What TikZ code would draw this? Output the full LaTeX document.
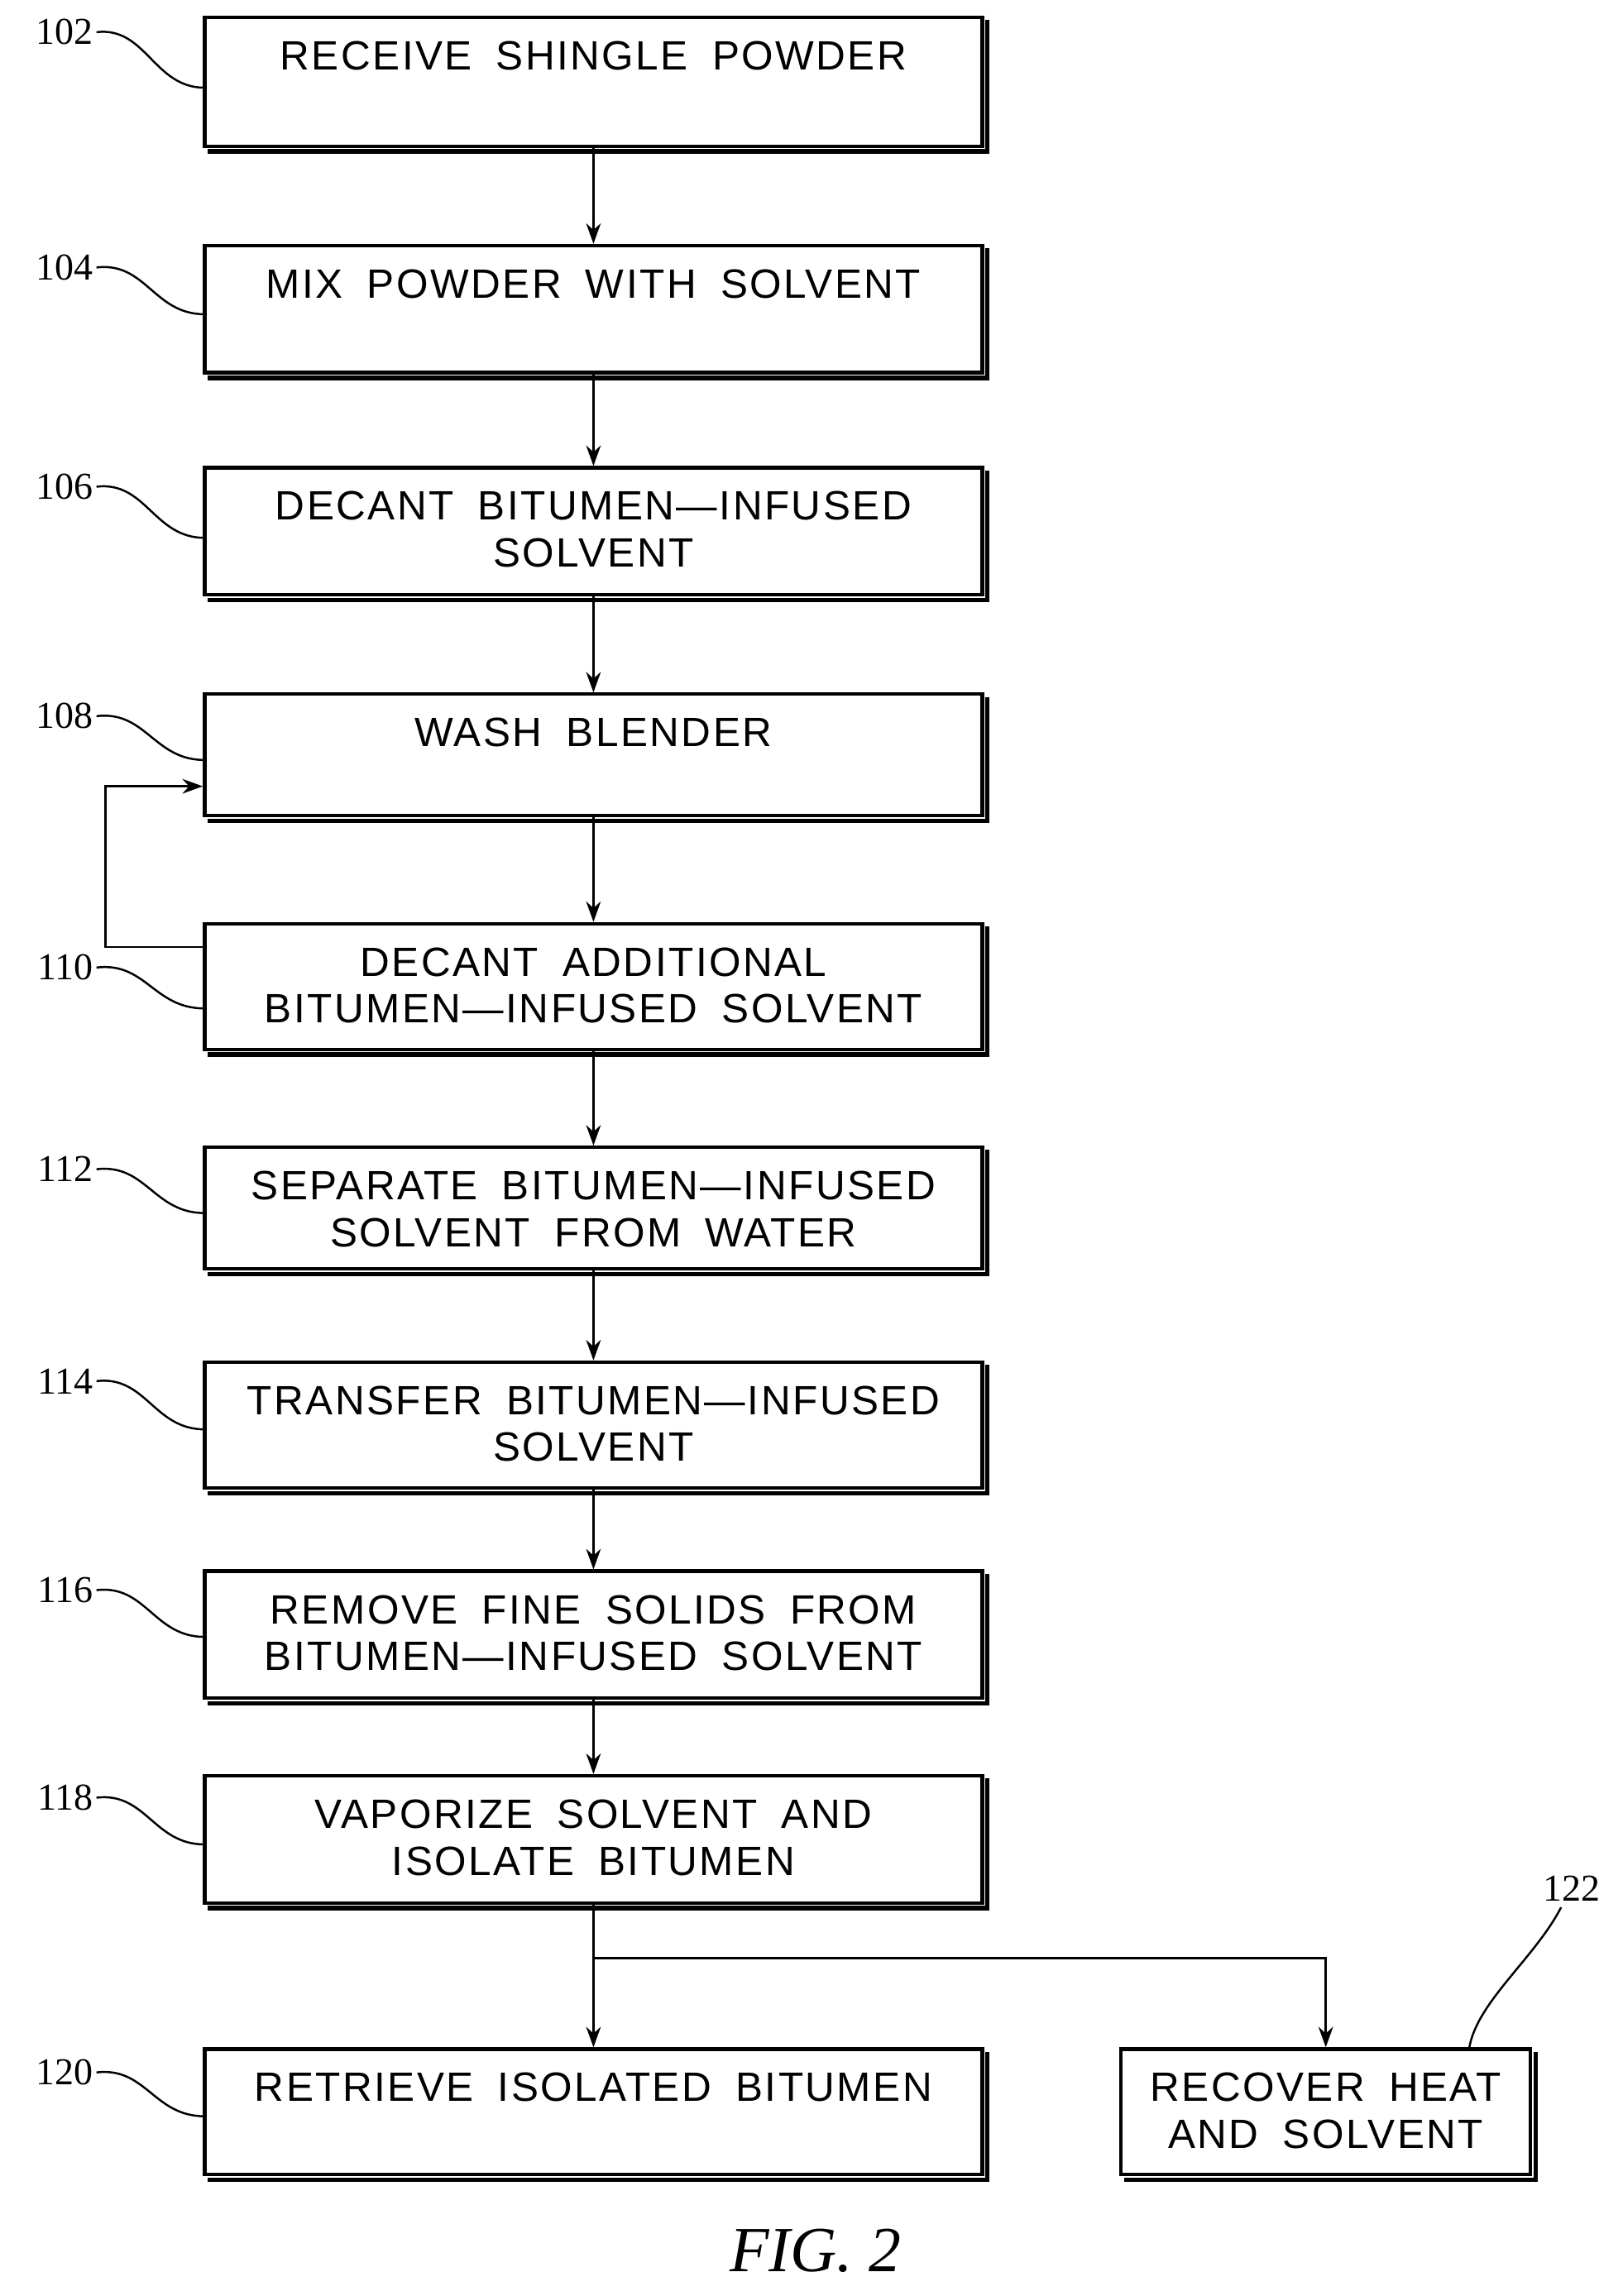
\documentclass[tikz,border=0pt]{standalone}
\usepackage{fontspec}
\setmainfont{Liberation Serif}
\newfontfamily\boxfont[Ligatures=TeX,LetterSpace=5,WordSpace=1.8]{Liberation Sans}
\usetikzlibrary{arrows.meta}
\begin{document}
\begin{tikzpicture}[x=0.5pt,y=-0.5pt,
  box/.style={draw,line width=1.2pt,minimum width=266pt,inner sep=0pt},
  txt/.style={anchor=north,align=center,font=\boxfont\fontsize{14}{16}\selectfont,inner sep=0pt},
  ref/.style={font=\fontsize{13}{15}\selectfont,anchor=east,inner sep=1pt},
  arr/.style={-{Stealth[length=7pt,width=5pt]},line width=0.8pt},
  lead/.style={line width=0.7pt}]
\useasboundingbox (0,0) rectangle (1110,1571);
\def\bx#1#2#3#4{\node[box,minimum height={(#3-#2)*0.5pt}] (#1) at (406,{(#2+#3)/2}) {};
  \node[txt] (t#1) at (406,#2+16) {#4};
  \draw[line width=1.5pt] ([shift={(1.5pt,-1.2pt)}]#1.south west) -- ([shift={(1.2pt,-1.2pt)}]#1.south east) -- ([shift={(1.2pt,-1.5pt)}]#1.north east);}
\bx{b102}{12}{100}{RECEIVE SHINGLE POWDER}
\bx{b104}{168}{255}{MIX POWDER WITH SOLVENT}
\bx{b106}{320}{407}{DECANT BITUMEN---INFUSED\\SOLVENT}
\bx{b108}{475}{558}{WASH BLENDER}
\bx{b110}{632}{718}{DECANT ADDITIONAL\\BITUMEN---INFUSED SOLVENT}
\bx{b112}{785}{868}{SEPARATE BITUMEN---INFUSED\\SOLVENT FROM WATER}
\bx{b114}{932}{1018}{TRANSFER BITUMEN---INFUSED\\SOLVENT}
\bx{b116}{1075}{1162}{REMOVE FINE SOLIDS FROM\\BITUMEN---INFUSED SOLVENT}
\bx{b118}{1215}{1302}{VAPORIZE SOLVENT AND\\ISOLATE BITUMEN}
\bx{b120}{1402}{1488}{RETRIEVE ISOLATED BITUMEN}
\node[box,minimum width=140pt,minimum height=43pt] (b122) at (907,1445) {};
\node[txt] (tb122) at (907,1418) {RECOVER HEAT\\AND SOLVENT};
\draw[line width=1.5pt] ([shift={(1.5pt,-1.2pt)}]b122.south west) -- ([shift={(1.2pt,-1.2pt)}]b122.south east) -- ([shift={(1.2pt,-1.5pt)}]b122.north east);
\foreach \a/\b in {b102/b104,b104/b106,b106/b108,b108/b110,b110/b112,b112/b114,b114/b116,b116/b118,b118/b120}
  \draw[arr] (\a) -- (\b);
\coordinate (j) at (406,1340);
\coordinate (k) at (907,1340);
\draw[arr] (j) -- (k) -- (b122);
\coordinate (f1) at (72,648);
\coordinate (f2) at (72,538);
\draw[arr] (b110.west |- f1) -- (f1) -- (f2) -- (b108.west |- f2);
\foreach \n/\y/\t in {102/22/60,104/183/215,106/333/368,108/490/520,110/662/690,112/800/830,114/945/978,116/1088/1120,118/1230/1262,120/1418/1448}{
  \node[ref] (l\n) at (66,\y) {\n};
  \draw[lead] (l\n.east) .. controls (100,\y-4) and (105,\t) .. (140,\t);}
\node[font=\fontsize{13}{15}\selectfont] (l122) at (1075,1292) {122};
\draw[lead] (1068,1305) .. controls (1050,1340) and (1010,1370) .. (1005,1402);
\node[font=\itshape\fontsize{22}{24}\selectfont] (fig) at (558,1540) {FIG. 2};
\end{tikzpicture}
\end{document}
